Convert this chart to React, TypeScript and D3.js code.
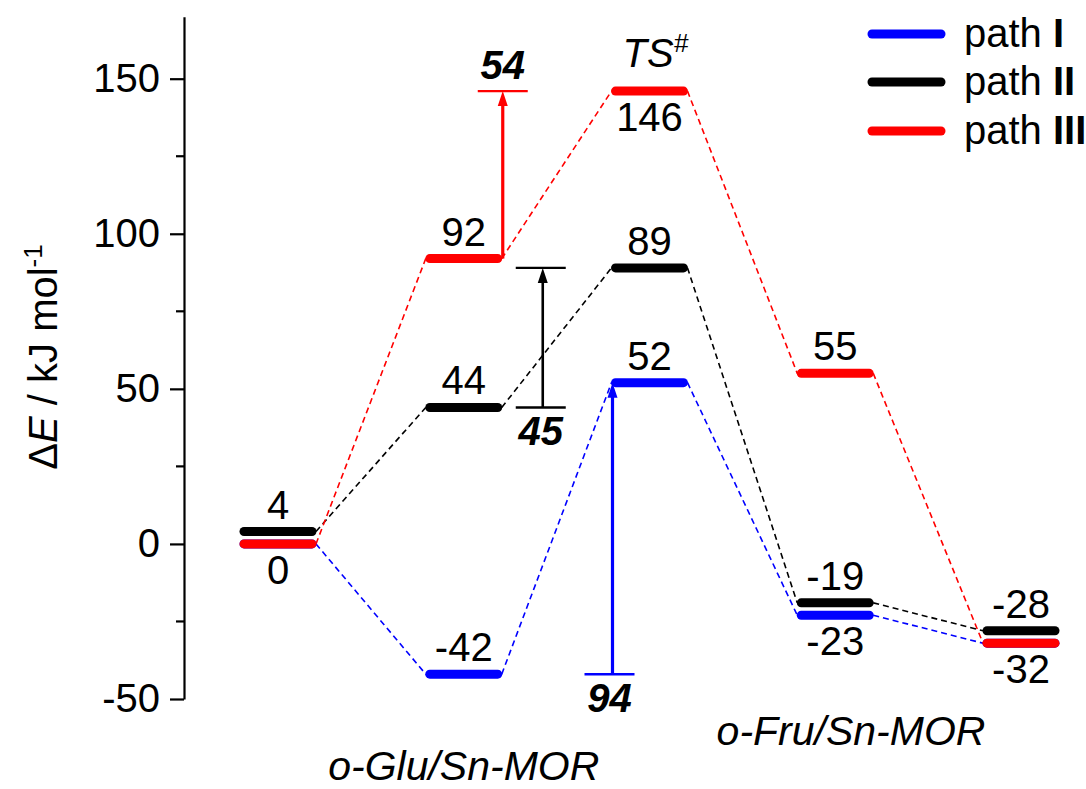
import React, { useEffect, useRef } from "react";
import * as d3 from "d3";

// ---------- data ----------
const stages = ["o-Glu", "IM", "TS", "IM2", "o-Fru"];
const pathNames = ["I", "II", "III"];
const pathColors = ["#0000ff", "#000000", "#ff0000"];
const pathI = [0, -42, 52, -23, -32];
const pathII = [4, 44, 89, -19, -28];
const pathIII = [0, 92, 146, 55, -32];
// label placement for each level value (null = no label)
const labelPosI = [null, "above", "above", "below", null];
const labelPosII = ["above", "above", "above", "above", "above"];
const labelPosIII = ["below", "above", "below", "above", "below"];
const yTicks = [-50, 0, 50, 100, 150];
const yMinorTicks = [-25, 25, 75, 125];
const groupLabels = ["o-Glu/Sn-MOR", "o-Fru/Sn-MOR"];

const W = 1086;
const H = 789;
const FONT = "'Liberation Sans', Arial, Helvetica, sans-serif";

const paths = [pathI, pathII, pathIII];
const labelPos = [labelPosI, labelPosII, labelPosIII];

export default function App() {
  const axisRef = useRef<SVGGElement>(null);

  const x = d3.scaleLinear().domain([0, stages.length - 1]).range([278, 1021]);
  const y = d3.scaleLinear().domain([-50, 170]).range([699, 699 - 220 * 3.1015]);
  const halfBar = 34;

  useEffect(() => {
    if (!axisRef.current) return;
    const g = d3.select(axisRef.current);
    g.selectAll("*").remove();
    const ax = d3
      .axisLeft(y)
      .tickValues(yTicks)
      .tickSize(14)
      .tickSizeOuter(0)
      .tickPadding(10)
      .tickFormat((d) => String(d));
    g.call(ax as any);
    g.select(".domain").attr("stroke", "#000").attr("stroke-width", 2.2);
    g.selectAll(".tick line").attr("stroke", "#000").attr("stroke-width", 2.2);
    g.selectAll(".tick text")
      .attr("font-size", 40)
      .attr("font-family", FONT)
      .attr("fill", "#000");
    g.selectAll(".minor")
      .data(yMinorTicks)
      .enter()
      .append("line")
      .attr("class", "minor")
      .attr("x1", -8)
      .attr("x2", 0)
      .attr("y1", (d) => y(d))
      .attr("y2", (d) => y(d))
      .attr("stroke", "#000")
      .attr("stroke-width", 2.2);
  }, []);

  // connectors
  const connectors: JSX.Element[] = [];
  paths.forEach((p, pi) => {
    for (let i = 0; i < p.length - 1; i++) {
      connectors.push(
        <line
          key={`c${pi}-${i}`}
          x1={x(i) + halfBar + 4}
          y1={y(p[i])}
          x2={x(i + 1) - halfBar - 4}
          y2={y(p[i + 1])}
          stroke={pathColors[pi]}
          strokeWidth={1.6}
          strokeDasharray="6,4"
        />
      );
    }
  });

  const bars: JSX.Element[] = [];
  paths.forEach((p, pi) => {
    p.forEach((v, i) => {
      bars.push(
        <line
          key={`b${pi}-${i}`}
          x1={x(i) - halfBar}
          x2={x(i) + halfBar}
          y1={y(v)}
          y2={y(v)}
          stroke={pathColors[pi]}
          strokeWidth={9}
          strokeLinecap="round"
        />
      );
    });
  });

  const labels: JSX.Element[] = [];
  paths.forEach((p, pi) => {
    p.forEach((v, i) => {
      const pos = labelPos[pi][i];
      if (!pos) return;
      labels.push(
        <text
          key={`l${pi}-${i}`}
          x={x(i)}
          y={pos === "above" ? y(v) - 13 : y(v) + 40}
          textAnchor="middle"
          fontSize={40}
          fontFamily={FONT}
          fill="#000"
        >
          {v}
        </text>
      );
    });
  });

  // barrier annotations
  const arrow = (
    key: string,
    ax: number,
    yLow: number,
    yHigh: number,
    color: string,
    sw: number,
    capX: number,
    capTop: boolean,
    capBottom: boolean,
    label: string,
    labelAbove: boolean
  ) => {
    const cap = 25;
    const headLen = 15;
    const headHalf = 5;
    const yl = y(yLow);
    const yh = y(yHigh);
    return (
      <g key={key}>
        <line x1={ax} x2={ax} y1={yl} y2={yh + headLen - 2} stroke={color} strokeWidth={sw} />
        <path
          d={`M${ax},${yh} L${ax - headHalf},${yh + headLen} L${ax + headHalf},${yh + headLen} Z`}
          fill={color}
        />
        {capTop && (
          <line x1={capX - cap} x2={capX + cap} y1={yh} y2={yh} stroke={color} strokeWidth={2.4} />
        )}
        {capBottom && (
          <line x1={capX - cap} x2={capX + cap} y1={yl} y2={yl} stroke={color} strokeWidth={2.4} />
        )}
        <text
          x={capX}
          y={labelAbove ? yh - 12 : yl + 38}
          textAnchor="middle"
          fontSize={40}
          fontFamily={FONT}
          fontWeight="bold"
          fontStyle="italic"
          fill="#000"
        >
          {label}
        </text>
      </g>
    );
  };

  const legendY = [34, 82, 131];

  return (
    <svg
      width={W}
      height={H}
      style={{ position: "absolute", left: 0, top: 0, background: "#fff" }}
      fontFamily={FONT}
    >
      <g ref={axisRef} transform="translate(184,0)" />
      <text
        transform={`translate(57,357) rotate(-90)`}
        textAnchor="middle"
        fontSize={40}
        fontFamily={FONT}
        fill="#000"
      >
        Δ<tspan fontStyle="italic">E</tspan> / kJ mol
        <tspan fontSize={26} dy={-15}>-1</tspan>
      </text>

      {connectors}
      {bars}
      {labels}

      {arrow("a3", x(1) + halfBar + 5, pathIII[1], pathIII[2], pathColors[2], 3.2, x(1) + halfBar + 5, true, false, String(pathIII[2] - pathIII[1]), true)}
      {arrow("a2", x(1) + halfBar + 45, pathII[1], pathII[2], pathColors[1], 2.6, x(1) + halfBar + 43, true, true, String(pathII[2] - pathII[1]), false)}
      {arrow("a1", x(2) - halfBar - 3, pathI[1], pathI[2], pathColors[0], 3.2, x(2) - halfBar - 6, false, true, String(pathI[2] - pathI[1]), false)}

      <text x={x(2) - 27} y={67} fontSize={40} fontStyle="italic" fontFamily={FONT} fill="#000">
        TS<tspan fontSize={26} dy={-15}>#</tspan>
      </text>

      <text x={x(1)} y={780} textAnchor="middle" fontSize={41} fontStyle="italic" fontFamily={FONT} fill="#000">
        {groupLabels[0]}
      </text>
      <text x={851} y={745} textAnchor="middle" fontSize={41} fontStyle="italic" fontFamily={FONT} fill="#000">
        {groupLabels[1]}
      </text>

      {pathNames.map((n, i) => (
        <g key={`lg${i}`}>
          <line x1={872} x2={941} y1={legendY[i]} y2={legendY[i]} stroke={pathColors[i]} strokeWidth={9} strokeLinecap="round" />
          <text x={964} y={legendY[i] + 13} fontSize={40} fontFamily={FONT} fill="#000">
            path <tspan fontWeight="bold">{n}</tspan>
          </text>
        </g>
      ))}
    </svg>
  );
}
